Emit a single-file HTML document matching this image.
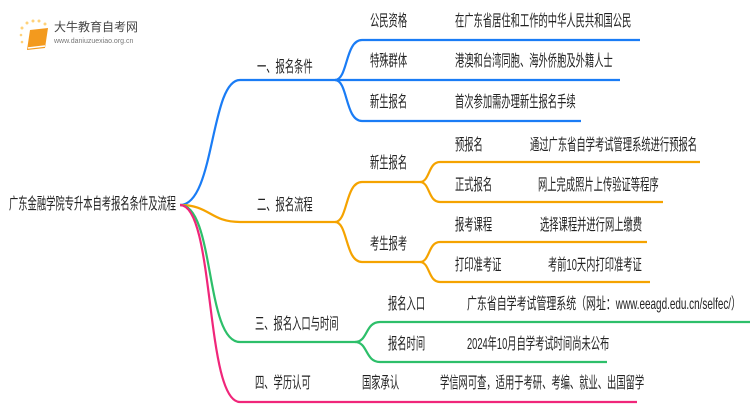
<!DOCTYPE html>
<html><head><meta charset="utf-8"><style>
body{margin:0;width:750px;height:410px;background:#fff;overflow:hidden;position:relative;font-family:"Liberation Sans","Noto Sans CJK SC",sans-serif;color:#222}
.t{position:absolute;font-size:16px;white-space:nowrap;line-height:18px;transform:scaleX(0.58);transform-origin:0 0}
</style></head><body>
<svg width="750" height="410" style="position:absolute;left:0;top:0" fill="none" stroke-width="2.2">
<g stroke="#1a7cf5">
<path d="M180,205 C215,205 210,80 240,80 L335,80"/>
<path d="M335,80 C348,80 345,40 362,40 L640,40"/>
<path d="M335,80 L620,80"/>
<path d="M335,80 C348,80 345,121 362,121 L581,121"/>
</g>
<g stroke="#f5a300">
<path d="M180,205 C210,205 210,222 240,222 L335,222"/>
<path d="M335,222 C348,222 345,182 362,182 L420,182"/>
<path d="M335,222 C348,222 345,262 362,262 L420,262"/>
<path d="M420,182 C430,182 428,162 440,162 L700,162"/>
<path d="M420,182 C430,182 428,202 440,202 L663,202"/>
<path d="M420,262 C430,262 428,242 440,242 L647,242"/>
<path d="M420,262 C430,262 428,282 440,282 L650,282"/>
</g>
<g stroke="#2dbf6a">
<path d="M180,205 C215,205 205,342 240,342 L355,342"/>
<path d="M355,342 C368,342 365,322 380,322 L750,322"/>
<path d="M355,342 C368,342 365,362 380,362 L607,362"/>
</g>
<g stroke="#f0267a">
<path d="M180,205 C215,205 205,402 240,402 L637,402"/>
</g>
</svg>
<svg width="34" height="34" style="position:absolute;left:18px;top:18px">
<g fill="#ffd27a"><circle cx="4" cy="10" r="1.5"/><circle cx="9" cy="5" r="1.5"/><circle cx="15" cy="3" r="1.5"/><circle cx="21" cy="3" r="1.5"/><circle cx="27" cy="6" r="1.5"/><circle cx="3" cy="17" r="1.3"/><circle cx="4" cy="24" r="1.3"/></g>
<path d="M12,12 L30,10 L27,30 L9,32 Z" fill="#f39a1e"/><path d="M10,30 L27,28" stroke="#fff" stroke-width="1.5"/>
</svg>
<div class="t" style="left:54px;top:18px;font-size:12px;color:#444;transform:none">大牛教育自考网</div>
<div class="t" style="left:54px;top:33px;font-size:7px;color:#777;transform:none">www.daniuzuexiao.org.cn</div>

<div class="t" style="left:9px;top:196px">广东金融学院专升本自考报名条件及流程</div>

<div class="t" style="left:257px;top:59px">一、报名条件</div>
<div class="t" style="left:370px;top:13px">公民资格</div>
<div class="t" style="left:455px;top:13px">在广东省居住和工作的中华人民共和国公民</div>
<div class="t" style="left:370px;top:53px">特殊群体</div>
<div class="t" style="left:455px;top:53px">港澳和台湾同胞、海外侨胞及外籍人士</div>
<div class="t" style="left:370px;top:94px">新生报名</div>
<div class="t" style="left:455px;top:94px">首次参加需办理新生报名手续</div>

<div class="t" style="left:257px;top:197px">二、报名流程</div>
<div class="t" style="left:370px;top:155px">新生报名</div>
<div class="t" style="left:370px;top:236px">考生报考</div>
<div class="t" style="left:455px;top:137px">预报名</div>
<div class="t" style="left:530px;top:137px">通过广东省自学考试管理系统进行预报名</div>
<div class="t" style="left:455px;top:177px">正式报名</div>
<div class="t" style="left:538px;top:177px">网上完成照片上传验证等程序</div>
<div class="t" style="left:455px;top:217px">报考课程</div>
<div class="t" style="left:540px;top:217px">选择课程并进行网上缴费</div>
<div class="t" style="left:455px;top:257px">打印准考证</div>
<div class="t" style="left:548px;top:257px">考前10天内打印准考证</div>

<div class="t" style="left:255px;top:316px">三、报名入口与时间</div>
<div class="t" style="left:388px;top:296px">报名入口</div>
<div class="t" style="left:467px;top:296px;transform:scaleX(0.62)">广东省自学考试管理系统（网址：www.eeagd.edu.cn/selfec/）</div>
<div class="t" style="left:388px;top:336px">报名时间</div>
<div class="t" style="left:467px;top:336px">2024年10月自学考试时间尚未公布</div>

<div class="t" style="left:255px;top:375px">四、学历认可</div>
<div class="t" style="left:362px;top:375px">国家承认</div>
<div class="t" style="left:440px;top:375px">学信网可查，适用于考研、考编、就业、出国留学</div>
</body></html>
